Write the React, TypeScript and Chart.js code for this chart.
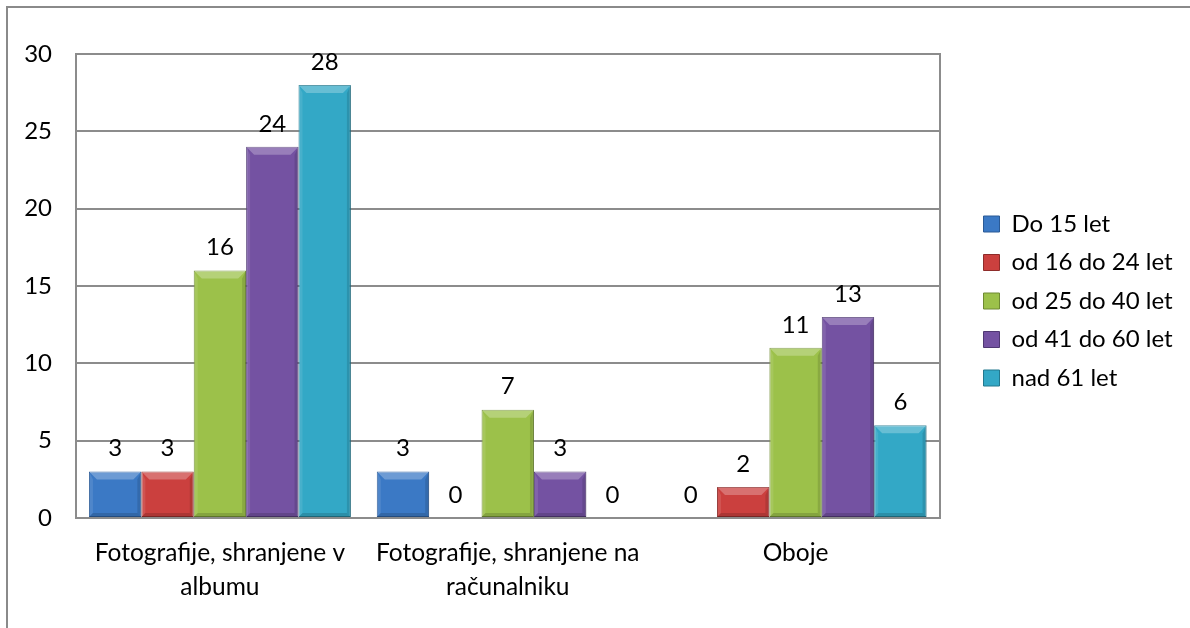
import React, { useEffect, useRef } from "react";
import { Chart, registerables } from "chart.js";

Chart.register(...registerables);

const categories: (string | string[])[] = [
  ["Fotografije, shranjene v", "albumu"],
  ["Fotografije, shranjene na", "računalniku"],
  "Oboje",
];
const seriesNames = ["Do 15 let", "od 16 do 24 let", "od 25 do 40 let", "od 41 do 60 let", "nad 61 let"];
const do15 = [3, 3, 0];
const od16do24 = [3, 0, 2];
const od25do40 = [16, 7, 11];
const od41do60 = [24, 3, 13];
const nad61 = [28, 0, 6];
const yTicks = { min: 0, max: 30, step: 5 };

const fills = ["#3B79C5", "#CB403E", "#9CC14A", "#7452A2", "#33A8C6"];
const borders = ["#2A5A96", "#8E2C2A", "#6E8A32", "#4F3873", "#23788E"];

const FONT = "Lato";
const GRID = "#8c8c8c";

const bevelPlugin = {
  id: "bevel",
  afterDatasetsDraw(chart: any) {
    const ctx = chart.ctx;
    chart.data.datasets.forEach((ds: any, di: number) => {
      const meta = chart.getDatasetMeta(di);
      meta.data.forEach((bar: any) => {
        const p = bar.getProps(["x", "y", "base", "width"], true);
        const l = p.x - p.width / 2;
        const r = p.x + p.width / 2;
        const t = Math.min(p.y, p.base);
        const b = Math.max(p.y, p.base);
        const h = b - t;
        if (h < 1) return;
        const bv = Math.min(8, h / 2, p.width / 2);
        ctx.save();
        ctx.fillStyle = "rgba(255,255,255,0.26)";
        ctx.beginPath();
        ctx.moveTo(l, t);
        ctx.lineTo(r, t);
        ctx.lineTo(r - bv, t + bv);
        ctx.lineTo(l + bv, t + bv);
        ctx.closePath();
        ctx.fill();
        ctx.fillStyle = "rgba(255,255,255,0.10)";
        ctx.beginPath();
        ctx.moveTo(l, t);
        ctx.lineTo(l + bv * 0.5, t + bv);
        ctx.lineTo(l + bv * 0.5, b - bv * 0.5);
        ctx.lineTo(l, b);
        ctx.closePath();
        ctx.fill();
        ctx.fillStyle = "rgba(0,0,0,0.12)";
        ctx.beginPath();
        ctx.moveTo(r, t);
        ctx.lineTo(r - bv * 0.5, t + bv);
        ctx.lineTo(r - bv * 0.5, b - bv * 0.5);
        ctx.lineTo(r, b);
        ctx.closePath();
        ctx.fill();
        ctx.fillStyle = "rgba(0,0,0,0.15)";
        ctx.beginPath();
        ctx.moveTo(l, b);
        ctx.lineTo(r, b);
        ctx.lineTo(r - bv * 0.5, b - bv * 0.5);
        ctx.lineTo(l + bv * 0.5, b - bv * 0.5);
        ctx.closePath();
        ctx.fill();
        ctx.restore();
      });
    });
  },
};

const valueLabelPlugin = {
  id: "valueLabels",
  afterDatasetsDraw(chart: any) {
    const ctx = chart.ctx;
    ctx.save();
    ctx.font = `24px ${FONT}`;
    ctx.fillStyle = "#000";
    ctx.textAlign = "center";
    ctx.textBaseline = "middle";
    chart.data.datasets.forEach((ds: any, di: number) => {
      const meta = chart.getDatasetMeta(di);
      meta.data.forEach((bar: any, i: number) => {
        const p = bar.getProps(["x", "y"], true);
        ctx.fillText(String(ds.data[i]), p.x, p.y - 23);
      });
    });
    ctx.restore();
  },
};

const legendFitPlugin = {
  id: "legendFit",
  afterInit(chart: any) {
    const lg = chart.legend;
    if (lg && !lg.__patched) {
      const orig = lg.fit;
      lg.fit = function () {
        orig.call(this);
        this.width = 221;
      };
      lg.__patched = true;
    }
  },
};

export default function App() {
  const ref = useRef<HTMLCanvasElement | null>(null);
  useEffect(() => {
    if (!ref.current) return;
    const values = [do15, od16do24, od25do40, od41do60, nad61];
    const chart = new Chart(ref.current, {
      type: "bar",
      data: {
        labels: categories,
        datasets: seriesNames.map((name, i) => ({
          label: name,
          data: values[i],
          backgroundColor: fills[i],
          borderColor: borders[i],
          borderWidth: 1,
          borderSkipped: false,
        })),
      },
      options: {
        animation: false,
        responsive: true,
        maintainAspectRatio: false,
        layout: { padding: { top: 54, bottom: 0, left: 0, right: 0 } },
        datasets: { bar: { barPercentage: 1, categoryPercentage: 0.91 } },
        plugins: {
          tooltip: { enabled: false },
          legend: {
            position: "right",
            align: "start",
            title: {
              display: true,
              text: "",
              font: { family: FONT, size: 10, lineHeight: 1 },
              padding: { top: 133.5, bottom: 0 },
            },
            labels: {
              boxWidth: 16,
              boxHeight: 16,
              padding: 14.5,
              color: "#000",
              font: { family: FONT, size: 24 },
            },
          },
        },
        scales: {
          x: {
            grid: { display: false, drawTicks: false },
            border: { display: true, color: GRID, width: 2 },
            ticks: {
              color: "#000",
              padding: 19,
              maxRotation: 0,
              autoSkip: false,
              font: { family: FONT, size: 24.5, lineHeight: 1.35 },
            },
            afterFit: (s: any) => {
              s.height = 110;
            },
          },
          y: {
            min: yTicks.min,
            max: yTicks.max,
            grid: { color: GRID, lineWidth: 2, drawTicks: false },
            border: { display: true, color: GRID, width: 2 },
            ticks: {
              stepSize: yTicks.step,
              color: "#000",
              padding: 24,
              font: { family: FONT, size: 24 },
            },
            afterFit: (s: any) => {
              s.width = 76;
            },
          },
          yRight: {
            type: "linear",
            axis: "y",
            position: "right",
            display: true,
            grid: { display: false, drawTicks: false },
            border: { display: true, color: GRID, width: 2 },
            ticks: { display: false },
            afterFit: (s: any) => {
              s.width = 29.5;
            },
          },
        },
      },
      plugins: [bevelPlugin, valueLabelPlugin, legendFitPlugin],
    } as any);
    return () => chart.destroy();
  }, []);

  return (
    <div
      style={{
        position: "fixed",
        left: 0,
        top: 0,
        width: 1190,
        height: 628,
        overflow: "hidden",
        background: "#fff",
      }}
    >
      <div
        style={{
          position: "absolute",
          left: 6,
          top: 6,
          width: 1300,
          height: 700,
          border: "2px solid #8a8a8a",
        }}
      />
      <div style={{ position: "absolute", left: 0, top: 0, width: 1190, height: 628 }}>
        <canvas ref={ref} />
      </div>
    </div>
  );
}
